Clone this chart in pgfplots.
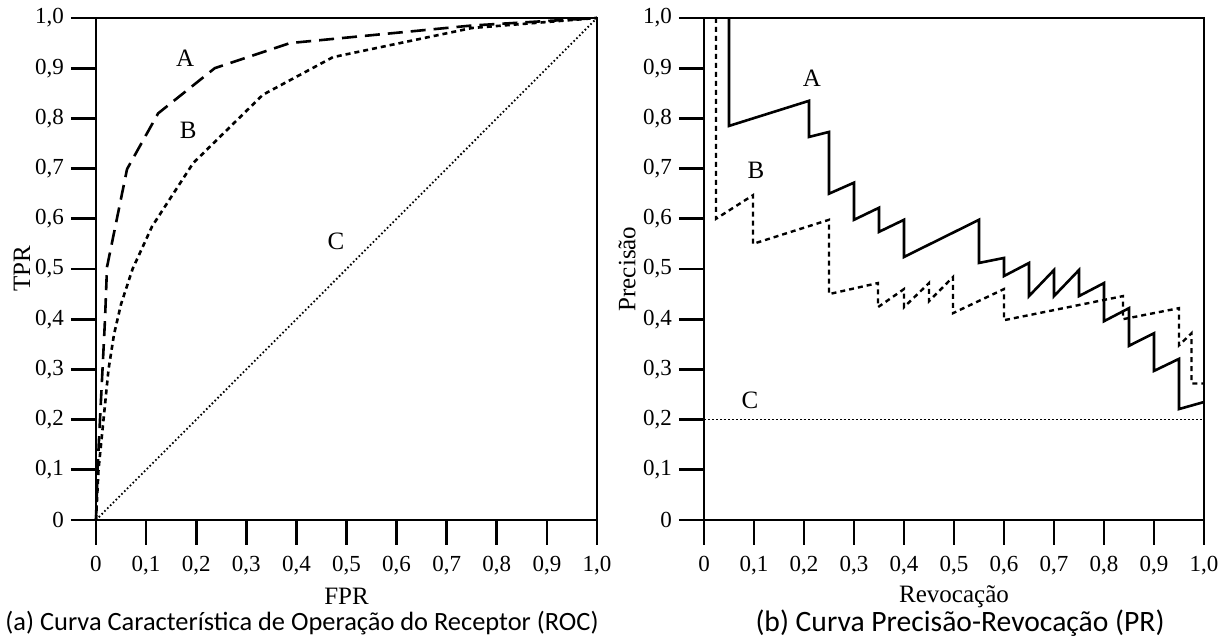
\documentclass[border=0pt]{standalone}
\usepackage{pgfplots}
\pgfplotsset{compat=1.18}
\usepackage{fontspec}
\setmainfont{Liberation Serif}
\newfontfamily\capfont{Carlito}

\tikzset{lblA/.style={font=\fontsize{12.5}{14}\selectfont}}
\pgfplotsset{
  mystyle/.style={
    scale only axis, width=250.5pt, height=251pt,
    xmin=0, xmax=1, ymin=0, ymax=1,
    axis line style={line width=1.4pt},
    tick align=outside, xtick pos=left, ytick pos=left,
    major tick length=12.5pt,
    every tick/.style={black, line width=1.4pt},
    xtick={0,0.1,0.2,0.3,0.4,0.5,0.6,0.7,0.8,0.9,1},
    ytick={0,0.1,0.2,0.3,0.4,0.5,0.6,0.7,0.8,0.9,1},
    xticklabels={0,{0,1},{0,2},{0,3},{0,4},{0,5},{0,6},{0,7},{0,8},{0,9},{1,0}},
    yticklabels={0,{0,1},{0,2},{0,3},{0,4},{0,5},{0,6},{0,7},{0,8},{0,9},{1,0}},
    tick label style={font=\fontsize{11.5}{13}\selectfont},
    xticklabel style={yshift=-2pt},
    label style={font=\fontsize{12.5}{14}\selectfont},
    xlabel style={at={([yshift=-38pt]axis description cs:0.5,0)}, anchor=center},
    clip=false,
  },
}

\begin{document}
\begin{tikzpicture}
% ROC
\begin{axis}[mystyle, at={(0pt,0pt)}, anchor=south west,
  xlabel={FPR}, ylabel={TPR},
  ylabel style={at={([xshift=-37pt]axis description cs:0,0.5)}, anchor=center},
]
\addplot[black, line width=1.3pt, dash pattern=on 7.5pt off 4pt] coordinates {
(0,0) (0.003,0.1) (0.008,0.2) (0.013,0.3) (0.018,0.4) (0.022,0.504) (0.062,0.699) (0.124,0.81) (0.237,0.9) (0.387,0.95) (0.75,0.985) (1,1)};
\addplot[black, line width=1.3pt, dash pattern=on 2.5pt off 2pt] coordinates {
(0,0) (0.005,0.1) (0.015,0.2) (0.025,0.3) (0.036,0.37) (0.05,0.43) (0.073,0.5) (0.112,0.585) (0.194,0.711) (0.333,0.847) (0.473,0.922) (0.75,0.98) (1,1)};
\addplot[black, line width=0.9pt, dash pattern=on 0.8pt off 1.2pt] coordinates {(0,0) (1,1)};
\node[lblA] at (axis cs:0.178,0.92) {A};
\node[lblA] at (axis cs:0.184,0.777) {B};
\node[lblA] at (axis cs:0.479,0.556) {C};
\end{axis}
% PR
\begin{axis}[mystyle, at={(304pt,0pt)}, anchor=south west, width=250pt,
  xlabel={Revocação}, ylabel={Precisão},
  xlabel style={at={([yshift=-38.5pt]axis description cs:0.5,0)}, anchor=center},
  ylabel style={at={([xshift=-38.5pt]axis description cs:0,0.5)}, anchor=center},
]
\addplot[black, line width=1.3pt] coordinates {
(0.05,1.0) (0.05,0.785) (0.21,0.835) (0.21,0.763) (0.25,0.773) (0.25,0.65) (0.3,0.672) (0.3,0.598) (0.35,0.622) (0.35,0.574) (0.4,0.598) (0.4,0.524) (0.55,0.598) (0.55,0.512) (0.6,0.522) (0.6,0.486) (0.65,0.512) (0.65,0.446) (0.7,0.498) (0.7,0.446) (0.75,0.498) (0.75,0.446) (0.8,0.472) (0.8,0.396) (0.85,0.422) (0.85,0.347) (0.9,0.372) (0.9,0.297) (0.95,0.321) (0.95,0.221) (1.0,0.235)};
\addplot[black, line width=1.2pt, dash pattern=on 2.5pt off 2pt] coordinates {
(0.024,1.0) (0.024,0.6) (0.098,0.647) (0.098,0.55) (0.25,0.598) (0.25,0.45) (0.348,0.472) (0.348,0.424) (0.4,0.46) (0.4,0.424) (0.45,0.472) (0.45,0.436) (0.498,0.484) (0.498,0.412) (0.6,0.46) (0.6,0.398) (0.838,0.446) (0.838,0.4) (0.95,0.422) (0.95,0.348) (0.975,0.372) (0.975,0.272) (1.0,0.272)};
\addplot[black, line width=0.9pt, dash pattern=on 0.8pt off 1.2pt] coordinates {(0,0.2) (1,0.2)};
\node[lblA] at (axis cs:0.216,0.88) {A};
\node[lblA] at (axis cs:0.104,0.697) {B};
\node[lblA] at (axis cs:0.092,0.239) {C};
\end{axis}
\node[font=\capfont\fontsize{13.2}{16}\selectfont] at (103pt,-51.5pt) {(a) Curva Característica de Operação do Receptor (ROC)};
\node[font=\capfont\fontsize{14.8}{18}\selectfont] at (432pt,-51.5pt) {(b) Curva Precisão-Revocação (PR)};
\pgfresetboundingbox
\path[use as bounding box] (-48pt,260pt) rectangle (565.5pt,-60.5pt);
\end{tikzpicture}
\end{document}
